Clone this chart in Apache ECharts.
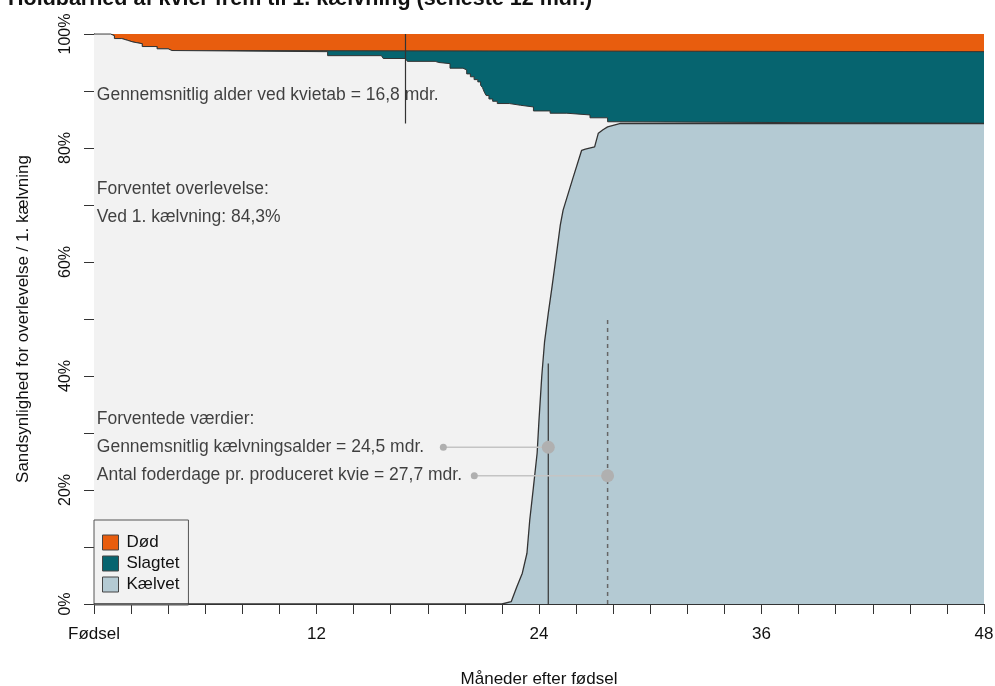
<!DOCTYPE html>
<html><head><meta charset="utf-8">
<script src="https://cdn.jsdelivr.net/npm/echarts@6/dist/echarts.min.js"></script>
<style>html,body{margin:0;padding:0;background:#fff}#c{width:995px;height:686px}</style>
</head><body><div id="c"></div>
<script>
// ---- data ----
const titleText = 'Holdbarhed af kvier frem til 1. kælvning (seneste 12 mdr.)';
const xTickLabels = {0:'Fødsel', 12:'12', 24:'24', 36:'36', 48:'48'};
const yTickLabels = [0, 20, 40, 60, 80, 100];
const topLevel = [[0, 100], [48, 100]];
// share not dead (lower edge of "Død")
const ikkeDoed = [[0,100],[0.9,99.7],[1.1,99.2],[1.5,98.9],[1.8,98.6],[2.1,98.3],[2.6,97.8],[3.4,97.4],[4.0,97.1],[4.2,96.9],[48,96.9]];
// share neither dead nor slaughtered (lower edge of "Slagtet"), from 12.4 months
const ikkeSlagtet = [[12.4,96.9],[12.6,96.2],[15.5,96.0],[15.6,95.7],[16.8,95.5],[16.9,95.2],[18.4,95.0],[18.6,94.8],[19.2,94.0],[19.9,93.7],[20.1,93.0],[20.3,92.5],[20.5,92.0],[20.7,91.6],[20.85,91.0],[20.95,90.6],[21.05,89.8],[21.15,89.2],[21.3,88.6],[21.5,88.2],[21.75,87.8],[22.4,87.5],[23.0,87.2],[23.7,86.5],[24.6,86.1],[25.5,85.8],[26.75,85.3],[27.7,84.6],[28.2,84.3],[48,84.3]];
// cumulative calved
const kaelvet = [[0,0],[22.0,0],[22.5,0.4],[22.8,3.0],[23.1,5.4],[23.35,8.9],[23.5,14.7],[23.7,20.5],[23.9,26.5],[24.0,32.3],[24.15,40.0],[24.3,46.0],[24.5,51.0],[24.7,55.6],[24.95,61.6],[25.15,66.5],[25.3,69.1],[25.8,74.4],[26.3,79.6],[26.5,79.8],[27.0,80.2],[27.2,82.6],[27.45,83.2],[27.7,83.7],[28.4,84.3],[48,84.3]];
const kvietabLinje = [[16.8, 84.3], [16.8, 100]];
const kaelvAlderLinje = [[24.5, 0], [24.5, 42.2]];
const foderLinje = [[27.7, 0], [27.7, 49.9]];
const indikatorKaelv = [[18.84, 27.5], [24.5, 27.5]];
const indikatorFoder = [[20.51, 22.5], [27.7, 22.5]];
const annotations = [
  {x:0.15, y:89.2, text:'Gennemsnitlig alder ved kvietab = 16,8 mdr.'},
  {x:0.15, y:72.7, text:'Forventet overlevelse:'},
  {x:0.15, y:67.8, text:'Ved 1. kælvning: 84,3%'},
  {x:0.15, y:32.4, text:'Forventede værdier:'},
  {x:0.15, y:27.6, text:'Gennemsnitlig kælvningsalder = 24,5 mdr.'},
  {x:0.15, y:22.6, text:'Antal foderdage pr. produceret kvie = 27,7 mdr.'}
];

// ---- styles ----
const FONT = "'Liberation Sans', Arial, sans-serif";
const C_DOED = '#e85d0e', C_SLAGT = '#06646f', C_KAELV = '#b4cad3', C_BG = '#f2f2f2';
const levende = ikkeDoed.filter(p => p[0] < ikkeSlagtet[0][0]).concat(ikkeSlagtet);

const chart = echarts.init(document.getElementById('c'), null, {renderer:'canvas'});
const edge = {color:'#333', width:1};
chart.setOption({
  animation: false,
  backgroundColor: '#fff',
  textStyle: {fontFamily: FONT},
  title: {text: titleText, left: 8, top: -11.5, padding: 0, textStyle: {fontFamily: FONT, fontSize: 21.5, fontWeight: 'bold', color: '#111'}},
  grid: {left: 94, right: 11, top: 34, bottom: 82, containLabel: false, outerBoundsMode: 'none'},
  legend: {
    left: 94, top: 520, orient: 'vertical', icon: 'rect', itemWidth: 16, itemHeight: 15, itemGap: 4,
    padding: [14, 9, 12, 8], borderColor: '#555', borderWidth: 1, backgroundColor: C_BG, borderRadius: 0,
    selectedMode: false,
    textStyle: {fontFamily: FONT, fontSize: 17, color: '#111', lineHeight: 15, padding: [0, 0, 0, 3]},
    data: [
      {name: 'Død', itemStyle: {color: C_DOED, borderColor: '#444', borderWidth: 1}},
      {name: 'Slagtet', itemStyle: {color: C_SLAGT, borderColor: '#444', borderWidth: 1}},
      {name: 'Kælvet', itemStyle: {color: C_KAELV, borderColor: '#444', borderWidth: 1}}
    ]
  },
  xAxis: {
    type: 'value', min: 0, max: 48, interval: 2,
    axisLine: {show: true, onZero: false, lineStyle: {color: '#333', width: 1}},
    axisTick: {show: true, length: 10, lineStyle: {color: '#333', width: 1}},
    axisLabel: {formatter: v => (xTickLabels[v] !== undefined ? xTickLabels[v] : ''), fontFamily: FONT, fontSize: 17, color: '#111', margin: 22, showMinLabel: true, showMaxLabel: true, hideOverlap: false},
    splitLine: {show: false},
    name: 'Måneder efter fødsel', nameLocation: 'middle', nameGap: 67, nameMoveOverlap: false,
    nameTextStyle: {fontFamily: FONT, fontSize: 17, color: '#111'}
  },
  yAxis: {
    type: 'value', min: 0, max: 100, interval: 10,
    axisLine: {show: true, onZero: false, lineStyle: {color: '#333', width: 1}},
    axisTick: {show: true, length: 10, lineStyle: {color: '#333', width: 1}},
    axisLabel: {formatter: v => (yTickLabels.indexOf(v) >= 0 ? v + '%' : ''), rotate: 90, fontFamily: FONT, fontSize: 16, color: '#111', margin: 20, showMinLabel: true, showMaxLabel: true, hideOverlap: false},
    splitLine: {show: false},
    name: 'Sandsynlighed for overlevelse / 1. kælvning', nameLocation: 'middle', nameGap: 62, nameMoveOverlap: false,
    nameTextStyle: {fontFamily: FONT, fontSize: 17, color: '#111'}
  },
  series: [
    {name: 'Død', type: 'line', data: topLevel, symbol: 'none', lineStyle: {width: 0}, itemStyle: {color: C_DOED}, areaStyle: {color: C_DOED, opacity: 1}, z: 1, silent: true},
    {name: 'Slagtet', type: 'line', step: 'end', data: ikkeDoed, symbol: 'none', lineStyle: edge, itemStyle: {color: C_SLAGT}, areaStyle: {color: C_SLAGT, opacity: 1}, z: 2, silent: true},
    {name: 'Levende', type: 'line', step: 'end', data: levende, symbol: 'none', lineStyle: edge, itemStyle: {color: C_BG}, areaStyle: {color: C_BG, opacity: 1}, z: 3, silent: true},
    {name: 'Kælvet', type: 'line', data: kaelvet, symbol: 'none', lineStyle: {color: '#333', width: 1.3}, itemStyle: {color: C_KAELV}, areaStyle: {color: C_KAELV, opacity: 1}, z: 4, silent: true},
    {name: 'kvietab', type: 'line', data: kvietabLinje, symbol: 'none', lineStyle: {color: '#333', width: 1.2}, z: 5, silent: true},
    {name: 'kaelvalder', type: 'line', data: kaelvAlderLinje, symbol: 'none', lineStyle: {color: '#333', width: 1.2}, z: 5, silent: true},
    {name: 'foder', type: 'line', data: foderLinje, symbol: 'none', lineStyle: {color: '#666', width: 1.5, type: [4, 4]}, z: 5, silent: true},
    {name: 'indKaelv', type: 'line', data: indikatorKaelv, symbol: 'circle', showSymbol: true, symbolSize: (v, p) => (p.dataIndex === 0 ? 7 : 13), itemStyle: {color: '#b0b0b0', borderWidth: 0}, lineStyle: {color: '#c4c4c4', width: 1.5}, z: 6, silent: true},
    {name: 'indFoder', type: 'line', data: indikatorFoder, symbol: 'circle', showSymbol: true, symbolSize: (v, p) => (p.dataIndex === 0 ? 7 : 13), itemStyle: {color: '#b0b0b0', borderWidth: 0}, lineStyle: {color: '#c4c4c4', width: 1.5}, z: 6, silent: true},
    {name: 'tekst', type: 'scatter', symbolSize: 0, silent: true, z: 10,
     data: annotations.map(a => ({value: [a.x, a.y], label: {formatter: a.text}})),
     label: {show: true, position: 'right', distance: 0, fontFamily: FONT, fontSize: 17.5, color: '#111'}}
  ]
});
</script></body></html>
